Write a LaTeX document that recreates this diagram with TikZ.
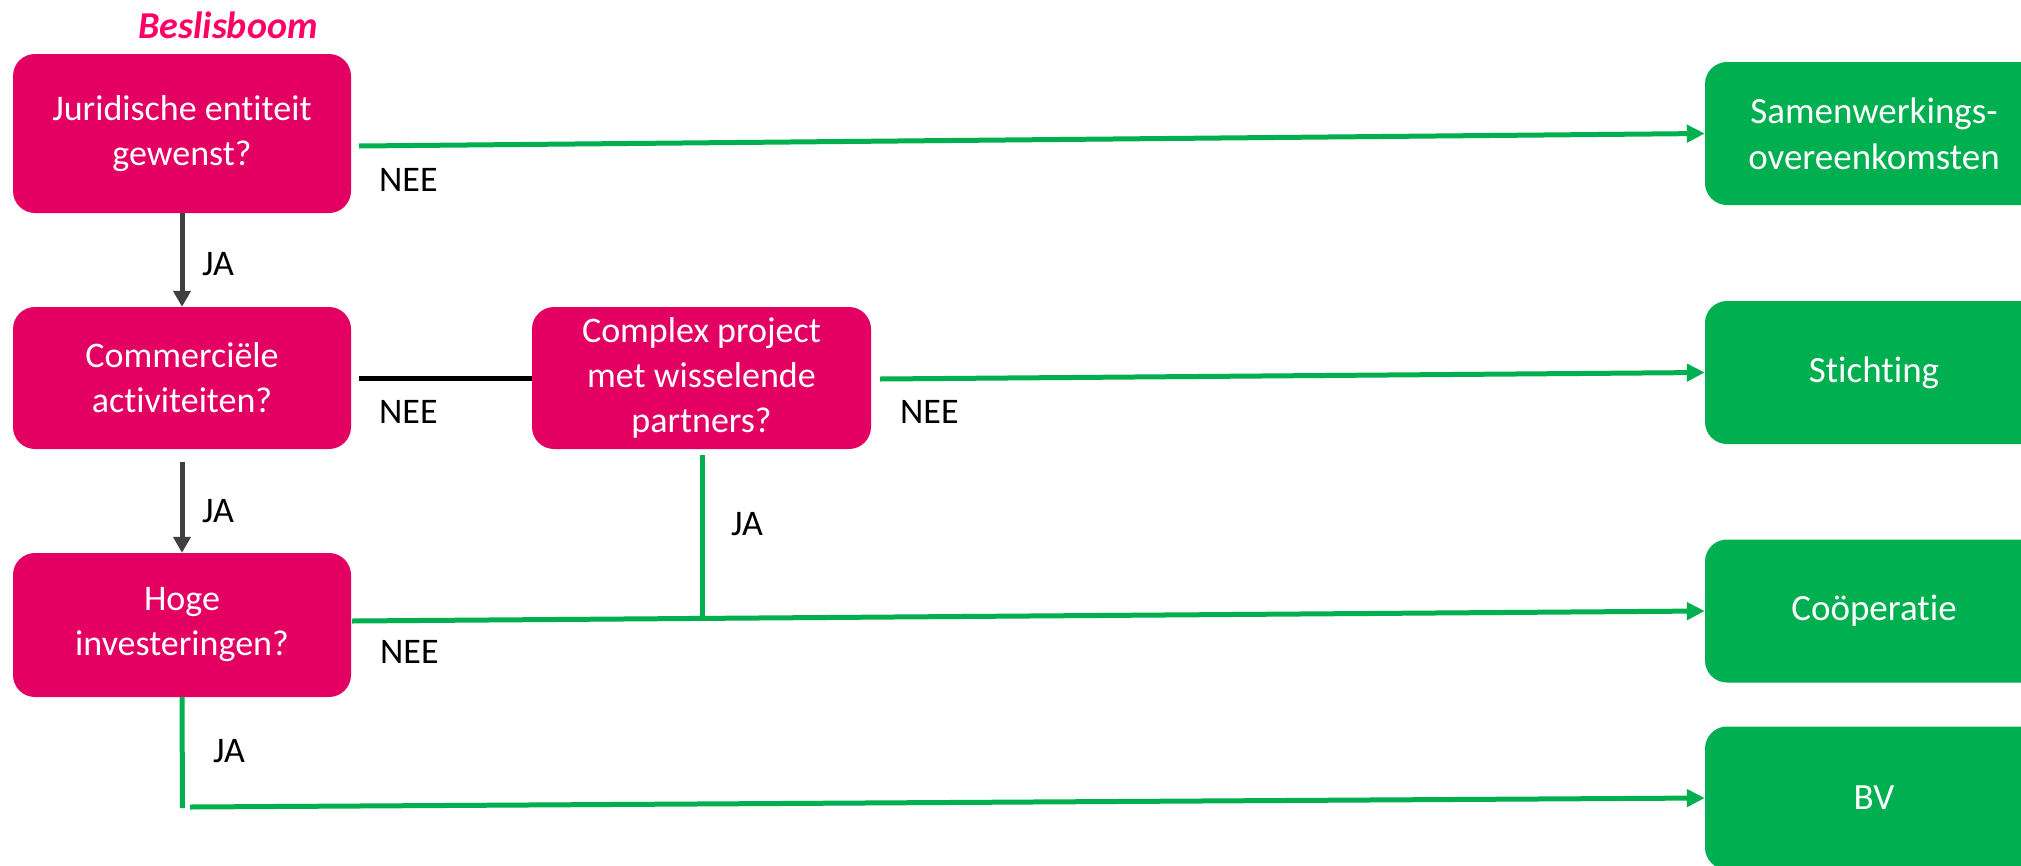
\documentclass[tikz,border=0pt]{standalone}
\usepackage{fontspec}
\setmainfont{Carlito}[Ligatures=NoCommon]
\usetikzlibrary{arrows.meta}
\definecolor{pinkbox}{RGB}{228,0,98}
\definecolor{titlepink}{RGB}{255,0,102}
\definecolor{greenbox}{RGB}{0,176,80}
\definecolor{darkarrow}{RGB}{64,64,64}
\tikzset{
  qbox/.style={fill=pinkbox, draw=none, rounded corners=22pt, text=white, align=center,
    inner sep=0pt, minimum width=338pt, font=\fontsize{36}{45}\selectfont},
  rbox/.style={fill=greenbox, draw=none, rounded corners=22pt, text=white, align=center,
    inner sep=0pt, minimum width=338pt, minimum height=143pt, font=\fontsize{37}{46}\selectfont},
  lbl/.style={anchor=base west, inner sep=0pt, text=black, font=\fontsize{36}{45}\selectfont},
  garrow/.style={draw=greenbox, line width=5pt, -{Triangle[length=18pt,width=17pt]}},
  gline/.style={draw=greenbox, line width=5pt},
  karrow/.style={draw=darkarrow, line width=5pt, -{Triangle[length=16pt,width=17pt]}},
  bline/.style={draw=black, line width=5pt},
}
\begin{document}
\begin{tikzpicture}[x=1pt,y=-1pt]
\clip (0,0) rectangle (2021,865);
\useasboundingbox (0,0) rectangle (2021,865);
\fill[white] (0,0) rectangle (2021,865);

\node[anchor=base, inner sep=0pt, text=titlepink, font=\fontsize{38}{44}\selectfont\bfseries\itshape] (title) at (228,38) {Beslisboom};

\node[qbox, minimum height=159pt] (b1) at (182,133.5) {Juridische entiteit\\gewenst?};
\node[qbox, minimum height=142pt] (b2) at (182,378) {Commerciële\\activiteiten?};
\node[qbox, minimum height=142pt, minimum width=339pt] (b3) at (701.5,378) {Complex project\\met wisselende\\partners?};
\node[qbox, minimum height=144pt] (b4) at (182,625) {Hoge\\investeringen?};

\node[rbox] (g1) at (1874,133.5) {Samenwerkings-\\overeenkomsten};
\node[rbox] (g2) at (1874,372.5) {Stichting};
\node[rbox] (g3) at (1874,611) {Coöperatie};
\node[rbox] (g4) at (1874,798) {BV};

\coordinate (s1) at (359,146);
\coordinate (s2) at (359,378);
\coordinate (s3) at (880,379);
\coordinate (s4) at (182,462);
\coordinate (s5) at (352,621);
\coordinate (s6) at (702,455);
\coordinate (j6) at (702,619);
\coordinate (e7) at (182.5,808);
\coordinate (s8) at (190,807);

\draw[garrow] (s1) -- (g1.west);
\draw[karrow] (b1.south) -- (b2.north);
\draw[bline] (s2) -- (b3.west);
\draw[garrow] (s3) -- (g2.west);
\draw[karrow] (s4) -- (b4.north);
\draw[garrow] (s5) -- (g3.west);
\draw[gline] (s6) -- (j6);
\draw[gline] (b4.south) -- (e7);
\draw[garrow] (s8) -- (g4.west);

\node[lbl] (n1) at (379,191) {NEE};
\node[lbl] (n2) at (379,423) {NEE};
\node[lbl] (n3) at (900,423) {NEE};
\node[lbl] (n4) at (380,663) {NEE};
\node[lbl] (j1) at (202,275) {JA};
\node[lbl] (j2) at (202,522) {JA};
\node[lbl] (j3) at (731,535) {JA};
\node[lbl] (j4) at (213,762) {JA};
\end{tikzpicture}
\end{document}
